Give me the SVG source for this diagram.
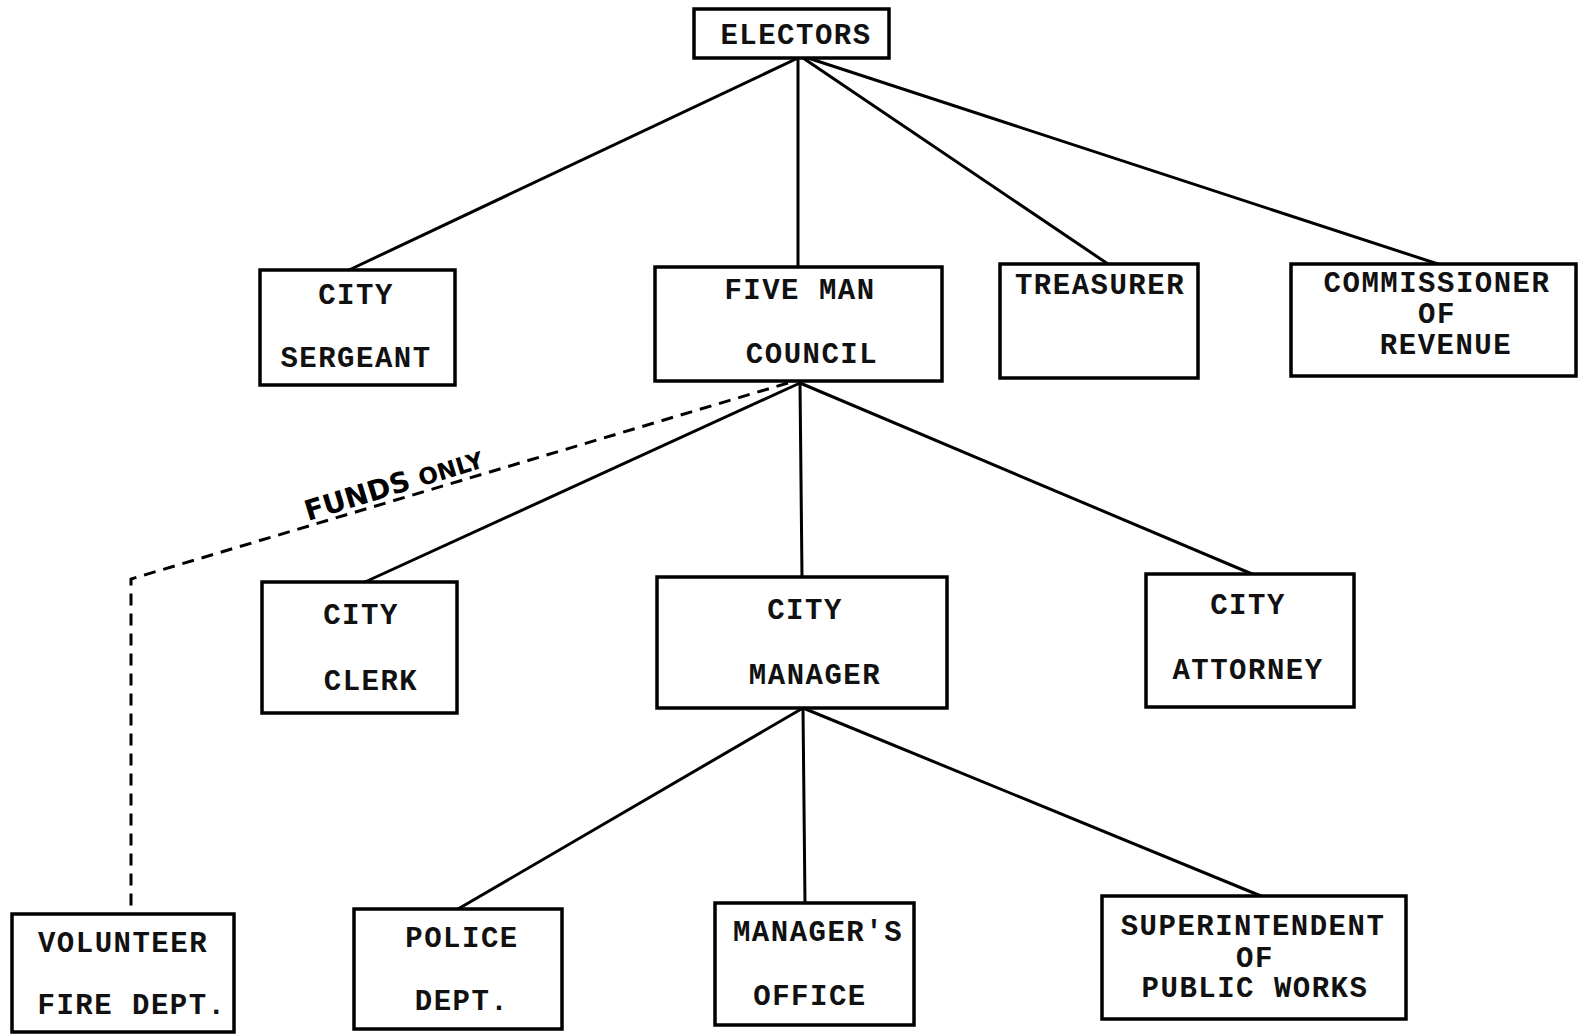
<svg xmlns="http://www.w3.org/2000/svg" width="1579" height="1034" viewBox="0 0 1579 1034">
<style>
.box{fill:#fff;stroke:#000;stroke-width:3.5}
.t{font-family:"Liberation Mono","Courier New",monospace;font-weight:bold;font-size:29px;letter-spacing:1.5px;text-anchor:middle;fill:#111}
.c{stroke:#000;stroke-width:3;fill:none;stroke-linecap:round}
.d{stroke:#000;stroke-width:3;fill:none;stroke-dasharray:12 8}
.h{font-family:"DejaVu Sans","Liberation Sans",sans-serif;font-weight:bold;font-size:28px;fill:#000}
</style>
<rect width="1579" height="1034" fill="#fff"/>
<g id="connectors">
<line class="c" x1="798" y1="58" x2="349" y2="270"/>
<line class="c" x1="798" y1="58" x2="798" y2="267"/>
<line class="c" x1="803" y1="58" x2="1108" y2="264"/>
<line class="c" x1="808" y1="58" x2="1438" y2="264"/>
<line class="c" x1="800" y1="383" x2="365" y2="582"/>
<line class="c" x1="800" y1="383" x2="802" y2="577"/>
<line class="c" x1="800" y1="383" x2="1252" y2="574"/>
<line class="c" x1="803" y1="708" x2="458" y2="909"/>
<line class="c" x1="803" y1="708" x2="805" y2="903"/>
<line class="c" x1="803" y1="708" x2="1261" y2="896"/>
<polyline class="d" points="788,383 131,579 131,914"/>
<text class="h" transform="translate(308,521) rotate(-17)">FUNDS <tspan font-size="23">ONLY</tspan></text>
</g>
<g id="electors"><rect class="box" x="694" y="9" width="195" height="49"/><text class="t" x="796" y="44">ELECTORS</text></g>
<g id="city-sergeant"><rect class="box" x="260" y="270" width="195" height="115"/><text class="t" x="356" y="304">CITY</text><text class="t" x="356" y="367">SERGEANT</text></g>
<g id="five-man-council"><rect class="box" x="655" y="267" width="287" height="114"/><text class="t" x="800" y="299">FIVE MAN</text><text class="t" x="812" y="363">COUNCIL</text></g>
<g id="treasurer"><rect class="box" x="1000" y="264" width="198" height="114"/><text class="t" x="1100" y="294">TREASURER</text></g>
<g id="commissioner"><rect class="box" x="1291" y="264" width="285" height="112"/><text class="t" x="1437" y="292">COMMISSIONER</text><text class="t" x="1437" y="323">OF</text><text class="t" x="1446" y="354">REVENUE</text></g>
<g id="city-clerk"><rect class="box" x="262" y="582" width="195" height="131"/><text class="t" x="361" y="624">CITY</text><text class="t" x="371" y="690">CLERK</text></g>
<g id="city-manager"><rect class="box" x="657" y="577" width="290" height="131"/><text class="t" x="805" y="619">CITY</text><text class="t" x="815" y="684">MANAGER</text></g>
<g id="city-attorney"><rect class="box" x="1146" y="574" width="208" height="133"/><text class="t" x="1248" y="614">CITY</text><text class="t" x="1248" y="679">ATTORNEY</text></g>
<g id="volunteer-fire"><rect class="box" x="12" y="914" width="222" height="118"/><text class="t" x="123" y="952">VOLUNTEER</text><text class="t" x="132" y="1014">FIRE DEPT.</text></g>
<g id="police"><rect class="box" x="354" y="909" width="208" height="120"/><text class="t" x="462" y="947">POLICE</text><text class="t" x="462" y="1010">DEPT.</text></g>
<g id="managers-office"><rect class="box" x="715" y="903" width="199" height="122"/><text class="t" x="818" y="941">MANAGER'S</text><text class="t" x="810" y="1005">OFFICE</text></g>
<g id="superintendent"><rect class="box" x="1102" y="896" width="304" height="123"/><text class="t" x="1253" y="935">SUPERINTENDENT</text><text class="t" x="1255" y="967">OF</text><text class="t" x="1255" y="997">PUBLIC WORKS</text></g>
</svg>
